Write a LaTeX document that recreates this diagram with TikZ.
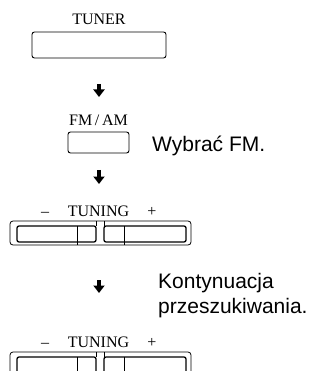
\documentclass[tikz,border=0pt]{standalone}
\usepackage{fontspec}
\setmainfont{Liberation Serif}
\newfontfamily\sansf{Liberation Sans}
\usetikzlibrary{arrows.meta}
\begin{document}
\begin{tikzpicture}[x=1pt,y=-1pt,
 lbl/.style={anchor=base,inner sep=0pt,font=\fontsize{16}{19}\selectfont},
 note/.style={anchor=base west,inner sep=0pt,align=left,font=\sansf\fontsize{21}{25}\selectfont},
 btn/.style={draw,line width=0.9pt,rounded corners=2.5pt,inner sep=0pt},
 down/.style={line width=4pt,-{Triangle[width=11pt,length=7.5pt]}},
 outerbox/.style={line width=0.8pt,rounded corners=3pt},
 innerbox/.style={line width=1.3pt,rounded corners=2pt},
 thin/.style={line width=0.8pt}]
\useasboundingbox (0,0) rectangle (327,371);
\clip (0,0) rectangle (327,371);
% TUNER
\node[lbl] (tunerlbl) at (99,25) {TUNER};
\node[btn,minimum width=134pt,minimum height=26pt] (tuner) at (99,45) {};
% arrow 1
\coordinate (a1s) at (99,84);
\coordinate (a1e) at (99,97);
\draw[down] (a1s) -- (a1e);
% FM/AM
\node[lbl] (fmlbl) at (98.5,126) {FM\,/\,AM};
\node[btn,minimum width=61pt,minimum height=21pt] (fm) at (98.5,142.5) {};
\node[note] (wybrac) at (152,152) {Wybrać FM.};
% arrow 2
\coordinate (a2s) at (99,170);
\coordinate (a2e) at (99,184);
\draw[down] (a2s) -- (a2e);
% TUNING 1
\node[lbl] (tun1) at (98.5,216) {TUNING};
\node[lbl] (tun1m) at (45,216) {–};
\node[lbl] (tun1p) at (152,216) {+};
\draw[outerbox] (10,221) rectangle (191,245);
\draw[innerbox] (17,226) rectangle (96,242);
\draw[innerbox] (104,226) rectangle (186,242);
\draw[thin] (96,221) -- (96,226) (104,221) -- (104,226) (77,226) -- (77,245) (124,226) -- (124,245);
% arrow 3
\coordinate (a3s) at (99,280);
\coordinate (a3e) at (99,293);
\draw[down] (a3s) -- (a3e);
\node[note] (kont) at (158,313) {Kontynuacja\\przeszukiwania.};
% TUNING 2
\node[lbl] (tun2) at (98.5,347) {TUNING};
\node[lbl] (tun2m) at (45,347) {–};
\node[lbl] (tun2p) at (152,347) {+};
\draw[outerbox] (10,352) rectangle (191,376);
\draw[innerbox] (17,357) rectangle (96,373);
\draw[innerbox] (104,357) rectangle (186,373);
\draw[thin] (96,352) -- (96,357) (104,352) -- (104,357) (77,357) -- (77,376) (124,357) -- (124,376);
\end{tikzpicture}
\end{document}
